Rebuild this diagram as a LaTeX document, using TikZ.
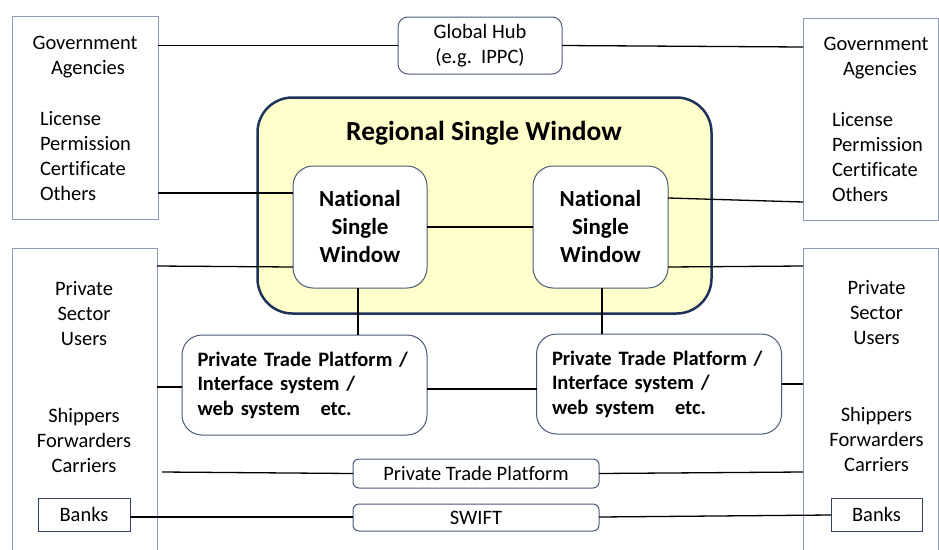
\documentclass[tikz,border=0pt]{standalone}
\usepackage{fontspec}
\setmainfont{Carlito}[Ligatures=NoCommon]
\usetikzlibrary{calc}
\definecolor{gboxc}{RGB}{140,155,182}
\definecolor{rboxc}{RGB}{75,90,120}
\definecolor{bankc}{RGB}{50,65,100}
\definecolor{rwc}{RGB}{31,50,90}
\definecolor{rwfill}{RGB}{255,255,204}
\begin{document}
\begin{tikzpicture}[x=1pt,y=-1pt,
  every node/.style={inner sep=0pt, outer sep=0pt},
  lbl/.style={font=\fontsize{20.5}{25}\selectfont, anchor=base},
  lblw/.style={lbl, anchor=base west},
  gbox/.style={draw=gboxc, line width=1pt, rectangle},
  rbox/.style={draw=rboxc, line width=1pt, fill=white, rounded corners=#1},
  rbox/.default=20pt,
  conn/.style={draw=black, line width=1.3pt},
]
\useasboundingbox (0,0) rectangle (939,549);

% outer boxes
\node[gbox, minimum width=146pt, minimum height=203pt] (gl) at (85,117.5) {};
\node[gbox, minimum width=135pt, minimum height=202pt] (gr) at (870.5,119) {};
\node[gbox, minimum width=145pt, minimum height=312pt] (pl) at (84.5,404) {};
\node[gbox, minimum width=135pt, minimum height=312pt] (pr) at (870.5,404) {};

% regional single window
\node[draw=rwc, line width=2.5pt, fill=rwfill, rounded corners=35pt,
      minimum width=454pt, minimum height=216pt] (rw) at (484.5,205.5) {};
\node[font=\bfseries\fontsize{27.5}{32}\selectfont, anchor=base] (rwt) at (484,140) {Regional Single Window};

\node[rbox, minimum width=134pt, minimum height=122pt, align=center,
      font=\bfseries\fontsize{23}{28}\selectfont] (n1) at (360,227) {National\\Single\\Window};
\node[rbox, minimum width=135pt, minimum height=122pt, align=center,
      font=\bfseries\fontsize{23}{28}\selectfont] (n2) at (600.5,227) {National\\Single\\Window};

% private trade platform boxes
\node[rbox, minimum height=100pt, text width=214pt, inner xsep=15.5pt, align=left,
      font=\bfseries\fontsize{20.5}{24.5}\selectfont] (p1) at (304.5,385)
      {Private Trade Platform /\\Interface system /\\web system\ \ \ etc.};
\node[rbox, minimum height=100pt, text width=214pt, inner xsep=15.5pt, align=left,
      font=\bfseries\fontsize{20.5}{24.5}\selectfont] (p2) at (659,384)
      {Private Trade Platform /\\Interface system /\\web system\ \ \ etc.};

% hub and bottom boxes
\node[rbox=10pt, minimum width=164pt, minimum height=57pt, align=center,
      font=\fontsize{20.5}{25}\selectfont] (hub) at (480,45.5) {Global Hub\\(e.g.\ \ IPPC)};
\node[rbox=6pt, minimum width=246pt, minimum height=29pt,
      font=\fontsize{20.5}{25}\selectfont] (ptp) at (476,473.5) {Private Trade Platform};
\node[rbox=6pt, minimum width=246pt, minimum height=27pt,
      font=\fontsize{20.5}{25}\selectfont] (sw) at (476,517.5) {SWIFT};
\node[draw=bankc, line width=1pt, minimum width=92pt, minimum height=33pt,
      font=\fontsize{20.5}{25}\selectfont] (bl) at (84,514.5) {Banks};
\node[draw=bankc, line width=1pt, minimum width=91pt, minimum height=33pt,
      font=\fontsize{20.5}{25}\selectfont] (br) at (876.5,514.5) {Banks};

% left government texts
\node[lbl] (ga1) at (85,49) {Government};
\node[lbl] (ga2) at (88,74) {Agencies};
\node[lblw] (gl1) at (40,125) {License};
\node[lblw] (gl2) at (40,150) {Permission};
\node[lblw] (gl3) at (40,175) {Certificate};
\node[lblw] (gl4) at (40,200) {Others};
% right government texts
\node[lbl] (gb1) at (876,50) {Government};
\node[lbl] (gb2) at (880,75) {Agencies};
\node[lblw] (gr1) at (832,126) {License};
\node[lblw] (gr2) at (832,151) {Permission};
\node[lblw] (gr3) at (832,176) {Certificate};
\node[lblw] (gr4) at (832,201) {Others};
% left private texts
\node[lbl] (pa1) at (84,295) {Private};
\node[lbl] (pa2) at (84,320) {Sector};
\node[lbl] (pa3) at (84,345) {Users};
\node[lbl] (pa4) at (84,422) {Shippers};
\node[lbl] (pa5) at (84,447) {Forwarders};
\node[lbl] (pa6) at (84,472) {Carriers};
% right private texts
\node[lbl] (pb1) at (876.5,294) {Private};
\node[lbl] (pb2) at (876.5,319) {Sector};
\node[lbl] (pb3) at (876.5,344) {Users};
\node[lbl] (pb4) at (876.5,421) {Shippers};
\node[lbl] (pb5) at (876.5,446) {Forwarders};
\node[lbl] (pb6) at (876.5,471) {Carriers};

% connectors
\draw[conn] (gl.east |- hub.west) -- (hub.west);
\draw[conn] (hub.east) -- (gr.west |- 0,47);
\draw[conn] (gl.east |- 0,193) -- (n1.west |- 0,193);
\draw[conn] (n2.east |- 0,198) -- (gr.west |- 0,202);
\draw[conn] (pl.east |- 0,266) -- (n1.west |- 0,267);
\draw[conn] (n2.east |- 0,267) -- (pr.west |- 0,266);
\draw[conn] (n1) -- (n2);
\draw[conn] (n1.south -| 358,0) -- (p1.north -| 358,0);
\draw[conn] (n2.south -| 602,0) -- (p2.north -| 602,0);
\draw[conn] (pl.east |- 0,387) -- (p1.west |- 0,387);
\draw[conn] (p1.east |- 0,389) -- (p2.west |- 0,389);
\draw[conn] (p2.east |- 0,384) -- (pr.west |- 0,384);
\coordinate (sf) at (162,472);
\draw[conn] (sf) -- (ptp.west);
\draw[conn] (ptp.east) -- (pr.west |- 0,472);
\draw[conn] (bl.east |- 0,517) -- (sw.west |- 0,517);
\draw[conn] (sw.east |- 0,517) -- (br.west |- 0,515);
\end{tikzpicture}
\end{document}
